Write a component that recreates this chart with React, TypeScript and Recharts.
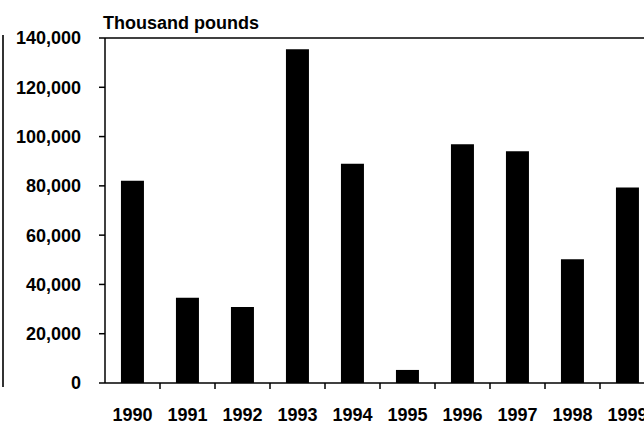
import { BarChart, Bar, XAxis, YAxis, ReferenceLine } from "recharts";

const years = ["1990", "1991", "1992", "1993", "1994", "1995", "1996", "1997", "1998", "1999"];
const pounds = [82100, 34600, 30800, 135400, 89000, 5300, 96900, 94000, 50200, 79300];
const yTicks = [0, 20000, 40000, 60000, 80000, 100000, 120000, 140000];

const data = years.map((year, i) => ({ year, pounds: pounds[i] }));

const FONT = "'Liberation Sans', Arial, sans-serif";

// label in the middle of the category, tick mark on its right edge
const YearTick = (props: any) => {
  const { x, y, payload } = props;
  const half = payload.offset ?? 27.5;
  return (
    <g>
      <line x1={x + half} x2={x + half} y1={y - 6} y2={y} stroke="#000" strokeWidth={1.5} />
      <text x={x} y={y + 32} textAnchor="middle" fontFamily={FONT} fontWeight="bold" fontSize={18} fill="#000">
        {payload.value}
      </text>
    </g>
  );
};

export default function App() {
  return (
    <div style={{ position: "absolute", left: 0, top: 0, width: 644, height: 423, overflow: "hidden", background: "#fff" }}>
      {/* leftover edge of the frame */}
      <div style={{ position: "absolute", left: 2, top: 35, width: 1.5, height: 352, background: "#333" }} />
      <svg width={644} height={40} style={{ position: "absolute", left: 0, top: 0 }}>
        <text x={103} y={29} fontFamily={FONT} fontWeight="bold" fontSize={18} fill="#000">
          Thousand pounds
        </text>
      </svg>
      <div style={{ position: "absolute", left: 0, top: 0 }}>
        <BarChart width={675} height={423} data={data} margin={{ top: 38, right: 20, left: 0, bottom: 0 }} barCategoryGap="29%">
          <XAxis
            dataKey="year"
            height={40}
            tickLine={false}
            tickSize={6}
            tickMargin={0}
            axisLine={{ stroke: "#000", strokeWidth: 1.5 }}
            tick={<YearTick />}
            interval={0}
          />
          <YAxis
            width={105}
            domain={[0, 140000]}
            ticks={yTicks}
            tickSize={6}
            tickMargin={18}
            tickFormatter={(v: number) => v.toLocaleString("en-US")}
            axisLine={{ stroke: "#000", strokeWidth: 1.5 }}
            tickLine={{ stroke: "#000", strokeWidth: 1.5 }}
            tick={{ fill: "#000", fontFamily: FONT, fontWeight: "bold", fontSize: 18 }}
          />
          <ReferenceLine y={140000} stroke="#000" strokeWidth={1.5} ifOverflow="extendDomain" />
          <Bar dataKey="pounds" fill="#000" isAnimationActive={false} />
        </BarChart>
      </div>
    </div>
  );
}
